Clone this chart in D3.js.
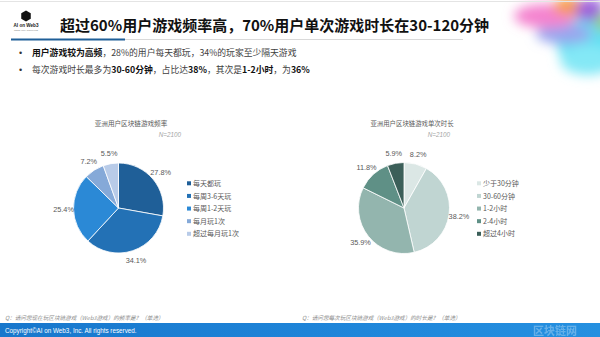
<!DOCTYPE html>
<html>
<head>
<meta charset="utf-8">
<script src="https://cdn.jsdelivr.net/npm/d3@7"></script>
<style>
  html, body { margin: 0; padding: 0; background: #fff; }
  svg { display: block; }
</style>
</head>
<body>
<svg id="chart" width="600" height="337"></svg>
<script>
// Survey results: play frequency and single-session length
const freqCategories = ["每天都玩", "每周3-6天玩", "每周1-2天玩", "每月玩1次", "超过每月玩1次"];
const freqValues = [27.8, 34.1, 25.4, 7.2, 5.5];
const freqColors = ["#1f5f98", "#2371b5", "#2b89d6", "#85a9d8", "#b8cbe8"];

const durCategories = ["少于30分钟", "30-60分钟", "1-2小时", "2-4小时", "超过4小时"];
const durValues = [8.2, 38.2, 35.9, 11.8, 5.9];
const durColors = ["#dbe7e5", "#c0d5d2", "#93b5ae", "#5f9086", "#3b5f59"];

const titleText = "超过60%用户游戏频率高，70%用户单次游戏时长在30-120分钟";
const sampleText = "N=2100";

const svg = d3.select("#chart");
const cjk = "'Noto Sans CJK SC', 'Noto Sans', sans-serif";
const latin = "'Liberation Sans', Arial, sans-serif";

// ---- decorative colour wash in the top-right corner ----
const defs = svg.append("defs");
const blur = defs.append("filter").attr("id", "soft").attr("x", "-50%").attr("y", "-50%").attr("width", "200%").attr("height", "200%");
blur.append("feGaussianBlur").attr("stdDeviation", 6);
const wash = svg.append("g").attr("filter", "url(#soft)");
[
  { cx: 600, cy: 42, rx: 44, ry: 28, c: "#62dff2" },
  { cx: 588, cy: 60, rx: 28, ry: 15, c: "#84e8f6" },
  { cx: 564, cy: 34, rx: 28, ry: 10, c: "#9aa6ee" },
  { cx: 546, cy: 16, rx: 32, ry: 12, c: "#f483cf" },
  { cx: 570, cy: 6, rx: 17, ry: 9, c: "#f79e46" },
  { cx: 590, cy: 10, rx: 14, ry: 12, c: "#9f63dc" },
  { cx: 603, cy: 22, rx: 8, ry: 10, c: "#94cf86" }
].forEach(e => {
  wash.append("ellipse").attr("cx", e.cx).attr("cy", e.cy).attr("rx", e.rx).attr("ry", e.ry).attr("fill", e.c);
});

// ---- header ----
svg.append("line").attr("x1", 0).attr("x2", 600).attr("y1", 1.5).attr("y2", 1.5)
  .attr("stroke", "#e4e4e4").attr("stroke-width", 1);

// logo mark
const logo = svg.append("g").attr("transform", "translate(26,16)");
logo.append("path")
  .attr("d", d3.range(6).map((i) => {
    const a = Math.PI / 6 + i * Math.PI / 3;
    return (i ? "L" : "M") + (5.5 * Math.cos(a)).toFixed(2) + "," + (5.5 * Math.sin(a)).toFixed(2);
  }).join("") + "Z")
  .attr("fill", "#111");
logo.append("text").attr("x", 0).attr("y", 11).attr("text-anchor", "middle")
  .attr("font-family", latin).attr("font-size", 4.6).attr("font-weight", "bold").attr("fill", "#222")
  .text("AI on Web3");
logo.append("text").attr("x", 0).attr("y", 15).attr("text-anchor", "middle")
  .attr("font-family", latin).attr("font-size", 2.2).attr("fill", "#888")
  .text("RESEARCH INSTITUTE");

svg.append("text").attr("x", 60).attr("y", 31)
  .attr("font-family", cjk).attr("font-size", 15).attr("font-weight", "bold").attr("fill", "#111")
  .text(titleText);

svg.append("line").attr("x1", 125).attr("x2", 463).attr("y1", 39.5).attr("y2", 39.5)
  .attr("stroke", "#d9d9d9").attr("stroke-width", 1);
svg.append("line").attr("x1", 11).attr("x2", 125).attr("y1", 39.5).attr("y2", 39.5)
  .attr("stroke", "#1f5f98").attr("stroke-width", 2);

// ---- bullet points ----
const bullets = [
  [{ t: "用户游戏较为高频", b: true }, { t: "，28%的用户每天都玩，34%的玩家至少隔天游戏" }],
  [{ t: "每次游戏时长最多为" }, { t: "30-60分钟", b: true }, { t: "，占比达" }, { t: "38%", b: true },
   { t: "，其次是" }, { t: "1-2小时", b: true }, { t: "，为" }, { t: "36%", b: true }]
];
bullets.forEach((parts, i) => {
  const y = 56 + i * 17;
  svg.append("text").attr("x", 19).attr("y", y).attr("font-family", latin).attr("font-size", 9)
    .attr("fill", "#333").text("•");
  const t = svg.append("text").attr("x", 32).attr("y", y)
    .attr("font-family", cjk).attr("font-size", 8.8).attr("fill", "#404040");
  parts.forEach(p => {
    t.append("tspan").attr("font-weight", p.b ? "bold" : "normal").attr("fill", p.b ? "#111" : "#404040").text(p.t);
  });
});

// ---- pie charts ----
function drawPie(opts) {
  const { cx, cy, r, values, categories, colors, title, titleX, titleSize, nX, legendX } = opts;
  const g = svg.append("g");

  g.append("text").attr("x", titleX).attr("y", 126).attr("text-anchor", "middle")
    .attr("font-family", cjk).attr("font-size", titleSize).attr("fill", "#595959").text(title);
  g.append("text").attr("x", nX).attr("y", 137).attr("text-anchor", "end")
    .attr("font-family", latin).attr("font-size", 6.3).attr("font-style", "italic").attr("fill", "#a6a6a6")
    .text(sampleText);

  const pie = d3.pie().sort(null).value(d => d);
  const arcs = pie(values);
  const arc = d3.arc().innerRadius(0).outerRadius(r);
  const labelArc = d3.arc().innerRadius(r + 10).outerRadius(r + 10);

  const pg = g.append("g").attr("transform", `translate(${cx},${cy})`);
  pg.selectAll("path").data(arcs).join("path")
    .attr("d", arc)
    .attr("fill", (d, i) => colors[i])
    .attr("stroke", "#fff").attr("stroke-width", 0.8);

  pg.selectAll("text").data(arcs).join("text")
    .attr("transform", d => {
      const [x, y] = labelArc.centroid(d);
      return `translate(${x},${y})`;
    })
    .attr("text-anchor", "middle").attr("dy", "0.35em")
    .attr("font-family", latin).attr("font-size", 7.3).attr("fill", "#595959")
    .text(d => d.data.toFixed(1) + "%");

  const legendY = d3.scalePoint().domain(categories).range([183.5, 234]);
  const lg = g.append("g");
  categories.forEach((c, i) => {
    const y = legendY(c);
    lg.append("rect").attr("x", legendX).attr("y", y - 2.2).attr("width", 4).attr("height", 4)
      .attr("fill", colors[i]);
    lg.append("text").attr("x", legendX + 6).attr("y", y).attr("dy", "0.35em")
      .attr("font-family", cjk).attr("font-size", 7).attr("fill", "#595959").text(c);
  });
}

drawPie({
  cx: 118.5, cy: 208, r: 45,
  values: freqValues, categories: freqCategories, colors: freqColors,
  title: "亚洲用户区块链游戏频率", titleX: 131, titleSize: 6.6, nX: 181, legendX: 187
});
drawPie({
  cx: 404, cy: 208, r: 45.5,
  values: durValues, categories: durCategories, colors: durColors,
  title: "亚洲用户区块链游戏单次时长", titleX: 412, titleSize: 6.4, nX: 450, legendX: 477
});

// ---- question footnotes ----
svg.append("text").attr("x", 5).attr("y", 320)
  .attr("font-family", cjk).attr("font-size", 5.6).attr("font-style", "italic").attr("fill", "#8c8c8c")
  .text("Q：请问您现在玩区块链游戏（Web3游戏）的频率是？（单选）");
svg.append("text").attr("x", 302).attr("y", 320)
  .attr("font-family", cjk).attr("font-size", 5.6).attr("font-style", "italic").attr("fill", "#8c8c8c")
  .text("Q：请问您每次玩区块链游戏（Web3游戏）的时长是？（单选）");

// ---- footer bar ----
const fg = defs.append("linearGradient").attr("id", "footer").attr("x1", 0).attr("x2", 1).attr("y1", 0).attr("y2", 0);
fg.append("stop").attr("offset", 0).attr("stop-color", "#1877cc");
fg.append("stop").attr("offset", 0.6).attr("stop-color", "#1f86da");
fg.append("stop").attr("offset", 1).attr("stop-color", "#2590e0");
svg.append("rect").attr("x", 0).attr("y", 323).attr("width", 600).attr("height", 14).attr("fill", "url(#footer)");
svg.append("text").attr("x", 5).attr("y", 333)
  .attr("font-family", latin).attr("font-size", 6.3).attr("fill", "#fff")
  .text("Copyright©AI on Web3, Inc. All rights reserved.");
svg.append("text").attr("x", 533).attr("y", 335)
  .attr("font-family", cjk).attr("font-size", 11).attr("font-weight", "bold").attr("fill", "#ffffff").attr("opacity", 0.3)
  .text("区块链网");
</script>
</body>
</html>
